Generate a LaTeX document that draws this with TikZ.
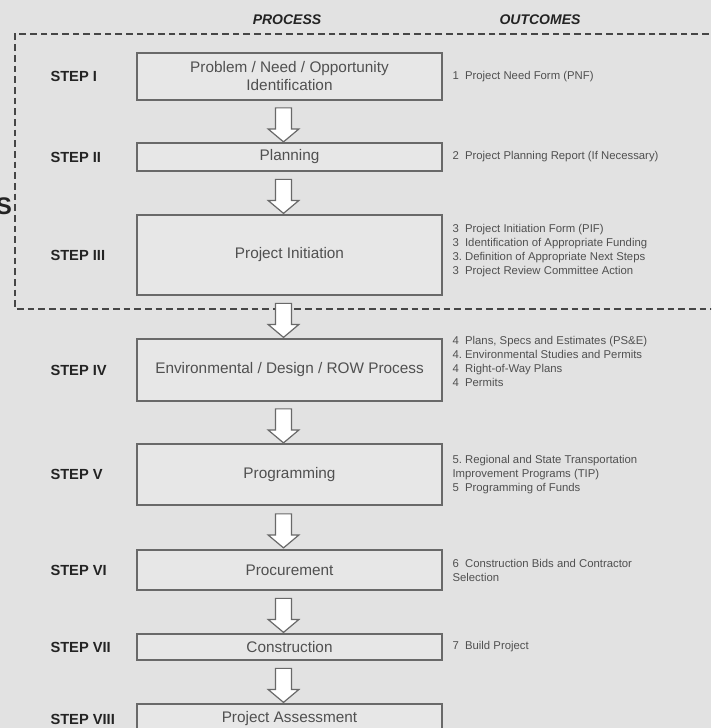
\documentclass[tikz,border=0pt]{standalone}
\usepackage{fontspec}
\setmainfont{Liberation Sans}
\usetikzlibrary{shapes.arrows,calc}

\definecolor{scangray}{RGB}{226,226,226}
\definecolor{boxfill}{RGB}{231,231,231}
\definecolor{boxline}{RGB}{105,105,105}
\definecolor{boxtext}{RGB}{80,80,80}
\definecolor{labeltext}{RGB}{35,35,35}
\definecolor{dashline}{RGB}{70,70,70}

\tikzset{every picture/.style={line width=0.75pt}}

\begin{document}
\begin{tikzpicture}[x=0.75pt,y=0.75pt,yscale=-1,xscale=1,
	stepbox/.style={draw=boxline, fill=boxfill, line width=0.9pt, minimum width=228.75pt, inner sep=0pt, align=center, text=boxtext, font=\fontsize{11.5}{13.5}\selectfont},
	steplabel/.style={anchor=west, inner sep=0pt, text=labeltext, font=\fontsize{11}{12}\selectfont\bfseries},
	outcome/.style={anchor=west, inner sep=0pt, align=left, text=boxtext, font=\fontsize{8.5}{10.5}\selectfont},
	colhead/.style={inner sep=0pt, text=labeltext, font=\fontsize{10.5}{12}\selectfont\bfseries\itshape},
	flowarrow/.style={single arrow, draw=boxline, fill=white, line width=0.9pt, rotate=-90, minimum height=25.5pt, minimum width=22pt, inner xsep=0pt, inner ysep=5.6pt, single arrow head extend=5.4pt, single arrow tip angle=100},
	phasebox/.style={draw=dashline, line width=1pt, dash pattern=on 5pt off 3pt}]
		%set diagram size to 711 x 728
		\useasboundingbox (0,0) rectangle (711,728);
		\clip (0,0) rectangle (711,728);
		\fill[scangray] (0,0) rectangle (711,728);
		
		%column heads
		\node[colhead] (hproc) at (287,20) {PROCESS};
		\node[colhead] (hout) at (540,20) {OUTCOMES};
		
		%dashed frame round steps I to III
		\draw[phasebox] (730,34) -- (15,34) -- (15,309) -- (730,309);
		\node[inner sep=0pt, text=labeltext, font=\fontsize{18}{18}\selectfont\bfseries] (edgeS) at (4,206) {S};
		
		%process boxes
		\node[stepbox, minimum height=35.25pt] (p1) at (289.5,76.5) {Problem / Need / Opportunity\\Identification};
		\node[stepbox, minimum height=21pt] (p2) at (289.5,157) {Planning};
		\node[stepbox, minimum height=60pt] (p3) at (289.5,255) {Project Initiation};
		\node[stepbox, minimum height=46.5pt] (p4) at (289.5,370) {Environmental / Design / ROW Process};
		\node[stepbox, minimum height=45.75pt] (p5) at (289.5,474.5) {Programming};
		\node[stepbox, minimum height=30pt] (p6) at (289.5,570) {Procurement};
		\node[stepbox, minimum height=19.5pt] (p7) at (289.5,647) {Construction};
		\node[stepbox, minimum height=22.5pt] (p8) at (289.5,719) {Project Assessment};
		
		%arrows between boxes
		\foreach \a/\b [count=\i] in {p1/p2,p2/p3,p3/p4,p4/p5,p5/p6,p6/p7,p7/p8}
			\node[flowarrow] (arr\i) at ($(\a.south)!0.5!(\b.north)+(-6,0)$) {};
		
		%step labels
		\node[steplabel] (s1) at (p1.west -| 50,0) {STEP I};
		\node[steplabel] (s2) at (p2.west -| 50,0) {STEP II};
		\node[steplabel] (s3) at (p3.west -| 50,0) {STEP III};
		\node[steplabel] (s4) at (p4.west -| 50,0) {STEP IV};
		\node[steplabel] (s5) at (p5.west -| 50,0) {STEP V};
		\node[steplabel] (s6) at (p6.west -| 50,0) {STEP VI};
		\node[steplabel] (s7) at (p7.west -| 50,0) {STEP VII};
		\node[steplabel] (s8) at (p8.west -| 50,0) {STEP VIII};
		
		%outcomes
		\node[outcome] (o1) at (452,77) {1\ \ Project Need Form (PNF)};
		\node[outcome] (o2) at (452,157) {2\ \ Project Planning Report (If Necessary)};
		\node[outcome] (o3) at (452,251) {3\ \ Project Initiation Form (PIF)\\3\ \ Identification of Appropriate Funding\\3.\ Definition of Appropriate Next Steps\\3\ \ Project Review Committee Action};
		\node[outcome] (o4) at (452,361) {4\ \ Plans, Specs and Estimates (PS\&E)\\4.\ Environmental Studies and Permits\\4\ \ Right-of-Way Plans\\4\ \ Permits};
		\node[outcome] (o5) at (452,475) {5.\ Regional and State Transportation\\Improvement Programs (TIP)\\5\ \ Programming of Funds};
		\node[outcome] (o6) at (452,570) {6\ \ Construction Bids and Contractor\\Selection};
		\node[outcome] (o7) at (452,647) {7\ \ Build Project};
		
	\end{tikzpicture}
\end{document}
